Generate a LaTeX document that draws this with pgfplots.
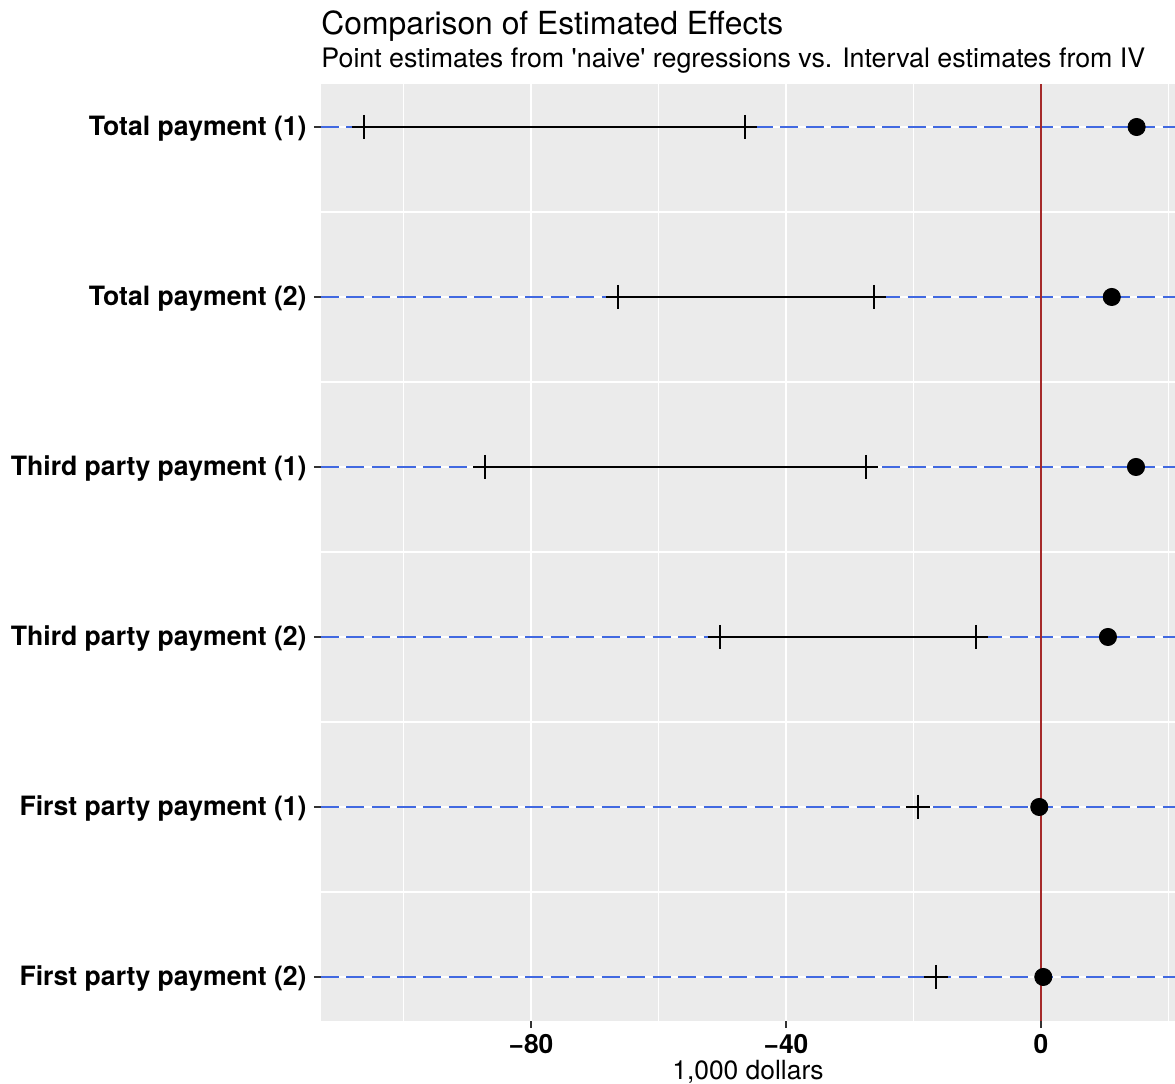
\documentclass[border=0pt]{standalone}
\usepackage{fontspec}
\setmainfont{TeX Gyre Heros}[Ligatures=TeXOff]
\usepackage{pgfplots}
\pgfplotsset{compat=1.18}
\usetikzlibrary{calc}
\definecolor{panel}{RGB}{235,235,235}
\definecolor{hl}{RGB}{65,105,225}
\definecolor{vl}{RGB}{165,42,42}
\definecolor{tk}{RGB}{51,51,51}

\begin{document}
\begin{tikzpicture}
\begin{axis}[
  scale only axis, width=427pt, height=468.5pt,
  xmin=-112.94, xmax=21.02, ymin=0.741, ymax=6.253,
  axis background/.style={fill=panel},
  axis line style={draw=none},
  xtick={-80,-40,0}, xticklabels={−80,−40,0},
  ytick={1,2,3,4,5,6},
  yticklabels={First party payment (2), First party payment (1),
    Third party payment (2), Third party payment (1),
    Total payment (2), Total payment (1)},
  minor xtick={-100,-60,-20,20},
  minor ytick={1.5,2.5,3.5,4.5,5.5},
  grid=both,
  major grid style={white, line width=1.1pt},
  minor grid style={white, line width=0.55pt},
  tick align=outside, xtick pos=left, ytick pos=left,
  major tick length=3.5pt, minor tick length=0pt,
  major tick style={tk, line width=1.1pt},
  xticklabel style={font=\fontsize{13.2pt}{15pt}\selectfont\bfseries, text=black, inner sep=0pt, anchor=north, yshift=-3pt},
  yticklabel style={font=\fontsize{13.3pt}{15pt}\selectfont\bfseries, text=black, inner sep=0pt, anchor=east, xshift=-3.5pt, yshift=-1pt},
  xlabel={1,000 dollars},
  xlabel style={at={(axis description cs:0.5,0)}, anchor=base, yshift=-29pt, inner sep=0pt,
    font=\fontsize{13.2pt}{15pt}\selectfont},
  clip=false,
]
% reference lines per row
\addplot[hl, line width=1.25pt, dash pattern=on 9pt off 3.75pt] coordinates {(-112.94,6) (21.02,6)};
\addplot[hl, line width=1.25pt, dash pattern=on 9pt off 3.75pt] coordinates {(-112.94,5) (21.02,5)};
\addplot[hl, line width=1.25pt, dash pattern=on 9pt off 3.75pt] coordinates {(-112.94,4) (21.02,4)};
\addplot[hl, line width=1.25pt, dash pattern=on 9pt off 3.75pt] coordinates {(-112.94,3) (21.02,3)};
\addplot[hl, line width=1.25pt, dash pattern=on 9pt off 3.75pt] coordinates {(-112.94,2) (21.02,2)};
\addplot[hl, line width=1.25pt, dash pattern=on 9pt off 3.75pt] coordinates {(-112.94,1) (21.02,1)};
% IV intervals
\addplot[black, line width=1.15pt] coordinates {(-106.2,6) (-46.4,6)};
\addplot[black, line width=1.15pt] coordinates {(-66.35,5) (-26.2,5)};
\addplot[black, line width=1.15pt] coordinates {(-87.2,4) (-27.45,4)};
\addplot[black, line width=1.15pt] coordinates {(-50.35,3) (-10.2,3)};
\addplot[black, only marks, mark=+, mark size=6pt, line width=1pt] coordinates {
  (-106.2,6) (-46.4,6) (-66.35,5) (-26.2,5) (-87.2,4) (-27.45,4)
  (-50.35,3) (-10.2,3) (-19.3,2) (-16.5,1)};
% naive point estimates
\addplot[black, only marks, mark=*, mark size=4.3pt] coordinates {
  (15.0,6) (11.1,5) (14.9,4) (10.5,3) (-0.27,2) (0.36,1)};
% zero line
\addplot[vl, line width=1.15pt] coordinates {(0,0.741) (0,6.253)};
\node[anchor=base west, inner sep=0pt, yshift=24.5pt, font=\fontsize{15.9pt}{18pt}\selectfont]
  at (rel axis cs:0,1) {Comparison of Estimated Effects};
\node[anchor=base west, inner sep=0pt, yshift=8pt, font=\fontsize{13.4pt}{15pt}\selectfont]
  at (rel axis cs:0,1) {Point estimates from 'naive' regressions vs. Interval estimates from IV};
\end{axis}
\pgfresetboundingbox
\path ($(current axis.south west)+(-160.5pt,-31.5pt)$) rectangle ($(current axis.north east)+(0pt,42pt)$);
\end{tikzpicture}
\end{document}
